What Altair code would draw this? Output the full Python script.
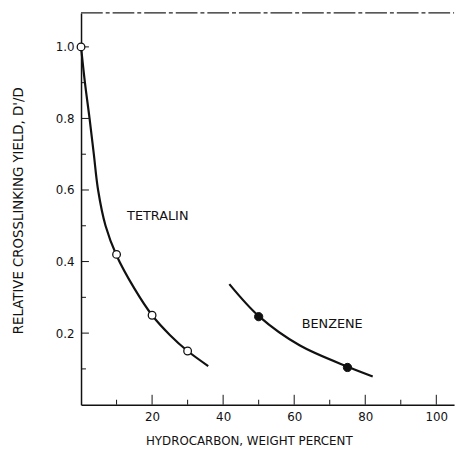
import altair as alt
import pandas as pd

# Curves
tet_curve_x = [0, 1.1, 2.4, 3.6, 4.8, 6.9, 10, 15, 20, 25, 30, 35.8]
tet_curve_y = [1.0, 0.9, 0.8, 0.7, 0.6, 0.5, 0.417, 0.325, 0.25, 0.195, 0.15, 0.108]
ben_curve_x = [41.75, 50.2, 61.5, 75.6, 82.1]
ben_curve_y = [0.337, 0.246, 0.166, 0.104, 0.079]

# Measured points
tet_pts_x = [0, 10, 20, 30]
tet_pts_y = [1.0, 0.42, 0.25, 0.15]
ben_pts_x = [50, 75]
ben_pts_y = [0.246, 0.104]

# Labels
label_text = ["TETRALIN", "BENZENE"]
label_x = [21.6, 70.7]
label_y = [0.526, 0.224]

# Ticks
x_major = [20, 40, 60, 80, 100]
x_minor = [10, 30, 50, 70, 90]
y_major = [0.2, 0.4, 0.6, 0.8, 1.0]
y_minor = [0.1, 0.3, 0.5, 0.7, 0.9]

W, H = 378, 397
FONT = "DejaVu Sans"

xs = alt.Scale(domain=[0, 105], nice=False, zero=False)
ys = alt.Scale(domain=[0, 1.095], nice=False, zero=False)

x_axis = alt.Axis(values=x_major, title="HYDROCARBON, WEIGHT PERCENT", grid=False,
                  ticks=False, domain=True, domainColor="#111", domainWidth=1.5,
                  labelFont=FONT, labelFontSize=12, labelColor="#111", labelPadding=7,
                  titleFont=FONT, titleFontSize=12, titleFontWeight="normal", titleColor="#111",
                  titleX=170, titleY=40, titleBaseline="alphabetic", titleAlign="center")
y_axis = alt.Axis(values=y_major, format=".1f", title="RELATIVE CROSSLINKING YIELD, D'/D",
                  grid=False, ticks=False, domain=True, domainColor="#111", domainWidth=1.5,
                  labelFont=FONT, labelFontSize=12, labelColor="#111", labelPadding=7,
                  titleFont=FONT, titleFontSize=13.5, titleFontWeight="normal", titleColor="#111",
                  titleAngle=-90, titleX=-63, titleY=200, titleAlign="center", titleBaseline="middle")

X = alt.X("x:Q", scale=xs, axis=x_axis)
Y = alt.Y("y:Q", scale=ys, axis=y_axis)

tet_curve = pd.DataFrame({"x": tet_curve_x, "y": tet_curve_y})
ben_curve = pd.DataFrame({"x": ben_curve_x, "y": ben_curve_y})
tet_pts = pd.DataFrame({"x": tet_pts_x, "y": tet_pts_y})
ben_pts = pd.DataFrame({"x": ben_pts_x, "y": ben_pts_y})
labels = pd.DataFrame({"x": label_x, "y": label_y, "t": label_text})

l_tet = alt.Chart(tet_curve).mark_line(color="#111", strokeWidth=2.2, interpolate="catmull-rom").encode(x=X, y=Y)
l_ben = alt.Chart(ben_curve).mark_line(color="#111", strokeWidth=2.2, interpolate="catmull-rom").encode(x=X, y=Y)
p_tet = alt.Chart(tet_pts).mark_point(shape="circle", filled=True, fill="white", stroke="#111",
                                      strokeWidth=1.3, size=60, opacity=1).encode(x=X, y=Y)
p_ben = alt.Chart(ben_pts).mark_point(shape="circle", filled=True, fill="#111", stroke="#111",
                                      strokeWidth=1, size=70, opacity=1).encode(x=X, y=Y)
txt = alt.Chart(labels).mark_text(font=FONT, fontSize=13, color="#111").encode(
    x=X, y=Y, text="t:N")

xt_major = alt.Chart(pd.DataFrame({"x": x_major})).mark_rule(color="#111", strokeWidth=1).encode(
    x=X, y=alt.value(H), y2=alt.value(H - 10))
xt_minor = alt.Chart(pd.DataFrame({"x": x_minor})).mark_rule(color="#111", strokeWidth=1).encode(
    x=X, y=alt.value(H), y2=alt.value(H - 5))
yt_major = alt.Chart(pd.DataFrame({"y": y_major})).mark_rule(color="#111", strokeWidth=1).encode(
    y=Y, x=alt.value(0), x2=alt.value(8))
yt_minor = alt.Chart(pd.DataFrame({"y": y_minor})).mark_rule(color="#111", strokeWidth=1).encode(
    y=Y, x=alt.value(0), x2=alt.value(5))
top = alt.Chart(pd.DataFrame({"y": [0]})).mark_rule(color="#222", strokeWidth=1.2,
                                                    strokeDash=[22, 3, 4, 3]).encode(
    y=alt.value(0), x=alt.value(0), x2=alt.value(W))

chart = alt.layer(xt_major, xt_minor, yt_major, yt_minor, top, l_tet, l_ben, p_tet, p_ben, txt).properties(
    width=W, height=H, autosize=alt.AutoSizeParams(type="none"),
    padding={"left": 74, "top": 2, "right": 5, "bottom": 45},
    background="white"
).configure_view(stroke=None)

chart.save("out.html", embed_options={"renderer": "svg", "actions": False})
